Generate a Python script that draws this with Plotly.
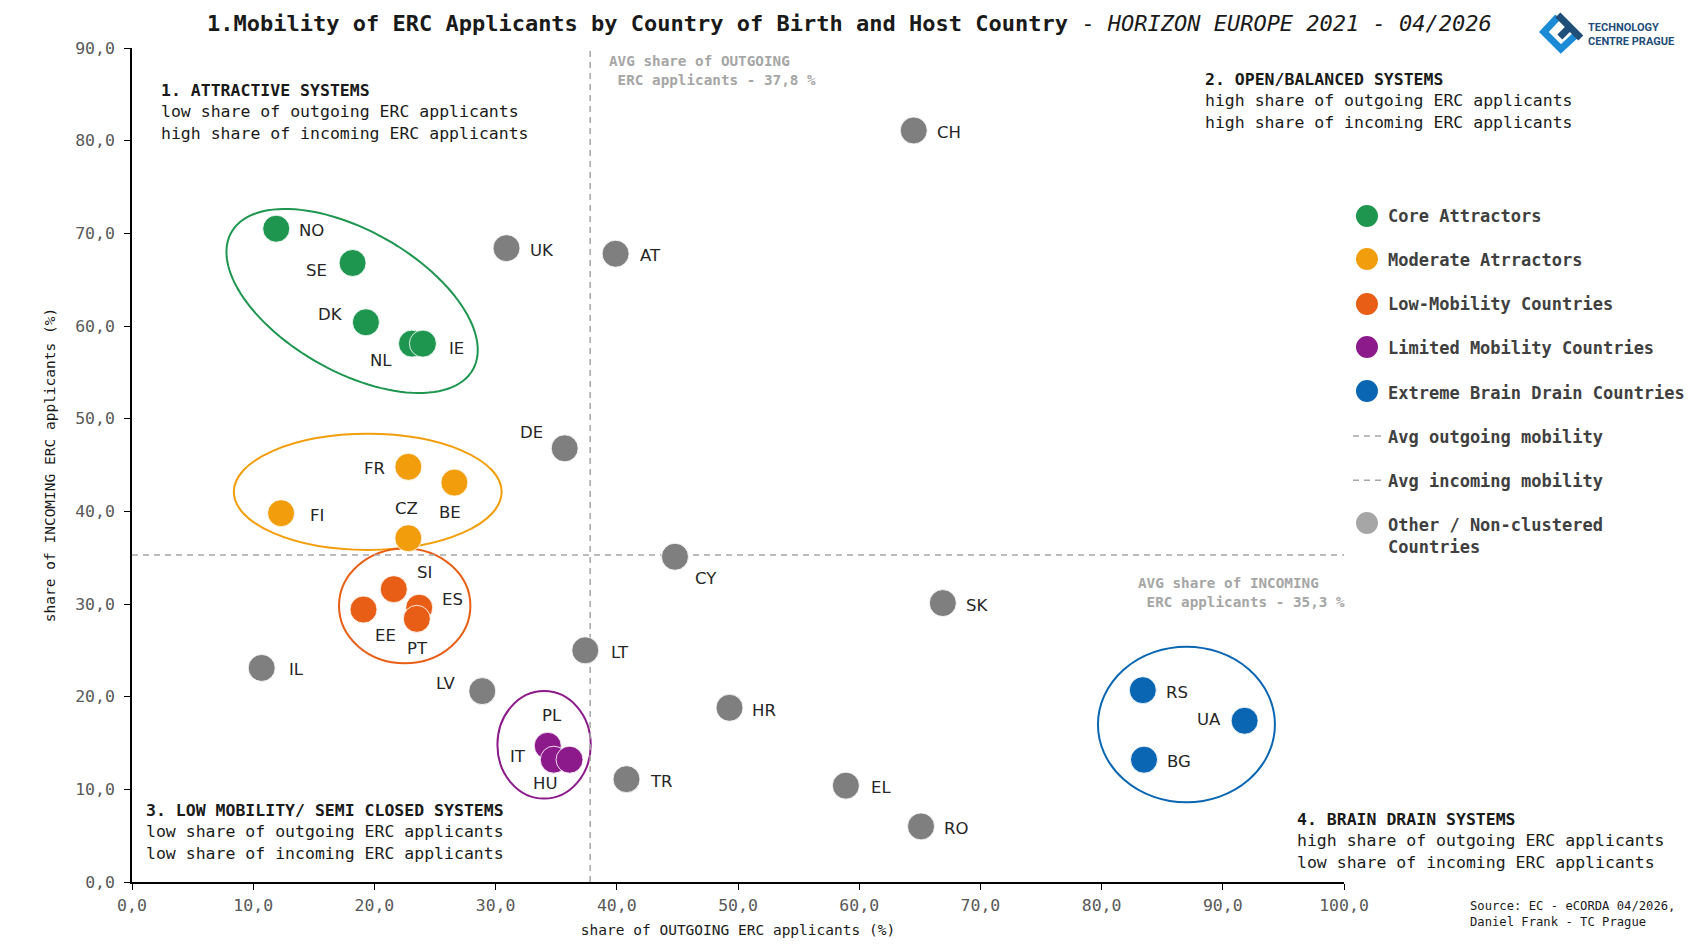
import numpy as np
import plotly.graph_objects as go

# ---------------- data ----------------
core_countries = ["NO", "SE", "DK", "NL", "IE"]
core_out = [11.9, 18.2, 19.3, 23.1, 24.0]
core_in = [70.5, 66.8, 60.4, 58.1, 58.1]

moderate_countries = ["FR", "BE", "FI", "CZ"]
moderate_out = [22.8, 26.6, 12.3, 22.8]
moderate_in = [44.8, 43.1, 39.8, 37.1]

low_countries = ["SI", "ES", "PT", "EE"]
low_out = [21.6, 23.7, 23.5, 19.1]
low_in = [31.6, 29.6, 28.4, 29.4]

limited_countries = ["PL", "IT", "HU"]
limited_out = [34.3, 34.8, 36.1]
limited_in = [14.7, 13.2, 13.2]

extreme_countries = ["RS", "UA", "BG"]
extreme_out = [83.4, 91.8, 83.5]
extreme_in = [20.7, 17.4, 13.2]

other_countries = ["CH", "UK", "AT", "DE", "CY", "SK", "IL", "LT", "LV", "HR", "TR", "EL", "RO"]
other_out = [64.5, 30.9, 39.9, 35.7, 44.8, 66.9, 10.7, 37.4, 28.9, 49.3, 40.8, 58.9, 65.1]
other_in = [81.1, 68.4, 67.8, 46.8, 35.1, 30.1, 23.1, 25.0, 20.6, 18.8, 11.1, 10.4, 6.0]

AVG_OUT = 37.8
AVG_IN = 35.3

x_ticks = [0, 10, 20, 30, 40, 50, 60, 70, 80, 90, 100]
y_ticks = [0, 10, 20, 30, 40, 50, 60, 70, 80, 90]

# ---------------- styling ----------------
W, H = 1701, 945
L, R, T, B = 132, 1345, 48, 882
X_RANGE = [0, 100]
Y_RANGE = [0, 90]
PX_X = (R - L) / (X_RANGE[1] - X_RANGE[0])
PX_Y = (B - T) / (Y_RANGE[1] - Y_RANGE[0])
MONO = "DejaVu Sans Mono"
SANS = "DejaVu Sans"

C_CORE = "#1E9650"
C_MOD = "#F29E0C"
C_LOW = "#E85E16"
C_LIM = "#8C1A8A"
C_EXT = "#0A66B2"
C_OTHER = "#7F7F7F"
C_OTHER_LEG = "#A6A6A6"
C_AVG = "#A6A6A6"
MSIZE = 27


def pp(x, y):
    """pixel -> paper coordinates"""
    return (x - L) / (R - L), (B - y) / (B - T)


# label offsets (pixels: dx right, dy up)
label_offsets = {
    "NO": (35, -2), "SE": (-36, -8), "DK": (-35, 8), "NL": (-31, -17), "IE": (34, -5),
    "UK": (35, -2), "AT": (35, -2), "CH": (35, -2), "DE": (-33, 16),
    "FR": (-34, -2), "BE": (-4, -30), "FI": (36, -2), "CZ": (-2, 30),
    "CY": (31, -22), "SI": (31, 17), "ES": (33, 8), "EE": (22, -26), "PT": (1, -30),
    "SK": (34, -2), "IL": (35, -2), "LT": (35, -2), "LV": (-37, 8), "HR": (34, -3),
    "PL": (4, 30), "IT": (-36, 3), "HU": (-25, -24), "TR": (35, -2), "EL": (35, -2),
    "RO": (35, -2), "RS": (34, -2), "UA": (-36, 1), "BG": (35, -2),
}

fig = go.Figure()

# average lines
fig.add_trace(go.Scatter(
    x=[AVG_OUT, AVG_OUT], y=Y_RANGE, mode="lines",
    line=dict(color=C_AVG, width=1.5, dash="6px,5px"),
    name="Avg outgoing mobility", legendrank=6, legendgroup="g6", hoverinfo="skip"))
fig.add_trace(go.Scatter(
    x=X_RANGE, y=[AVG_IN, AVG_IN], mode="lines",
    line=dict(color=C_AVG, width=1.5, dash="6px,5px"),
    name="Avg incoming mobility", legendrank=7, legendgroup="g7", hoverinfo="skip"))

clusters = [
    ("Core Attractors", core_countries, core_out, core_in, C_CORE),
    ("Moderate Atrractors", moderate_countries, moderate_out, moderate_in, C_MOD),
    ("Low-Mobility Countries", low_countries, low_out, low_in, C_LOW),
    ("Limited Mobility Countries", limited_countries, limited_out, limited_in, C_LIM),
    ("Extreme Brain Drain Countries", extreme_countries, extreme_out, extreme_in, C_EXT),
]

marker_line = dict(width=1, color="rgba(255,255,255,0.85)")

fig.add_trace(go.Scatter(
    x=other_out, y=other_in, mode="markers", text=other_countries,
    marker=dict(size=MSIZE, color=C_OTHER, line=marker_line),
    name="Other", showlegend=False,
    hovertemplate="%{text}<br>out: %{x}<br>in: %{y}<extra></extra>"))

for i, (name, ctry, xo, yi, col) in enumerate(clusters):
    fig.add_trace(go.Scatter(
        x=xo, y=yi, mode="markers", text=ctry,
        marker=dict(size=MSIZE, color=col, line=marker_line),
        name=name, showlegend=False, legendgroup=f"g{i+1}",
        hovertemplate="%{text}<br>out: %{x}<br>in: %{y}<extra></extra>"))
    # legend entry (symbol drawn as a larger swatch below)
    fig.add_trace(go.Scatter(
        x=[None], y=[None], mode="markers",
        marker=dict(size=MSIZE, color="rgba(0,0,0,0)"),
        name=name, legendrank=i + 1, legendgroup=f"g{i+1}"))

# legend entry for other countries
fig.add_trace(go.Scatter(
    x=[None], y=[None], mode="markers",
    marker=dict(size=MSIZE, color="rgba(0,0,0,0)"),
    name="Other / Non-clustered<br>Countries", legendrank=8, legendgroup="g8"))

# country labels
annotations = []
all_groups = [(other_countries, other_out, other_in)] + [(c[1], c[2], c[3]) for c in clusters]
for ctry, xo, yi in all_groups:
    for c, xv, yv in zip(ctry, xo, yi):
        dx, dy = label_offsets[c]
        annotations.append(dict(
            x=xv, y=yv, xref="x", yref="y", text=c, showarrow=False,
            xshift=dx, yshift=dy, font=dict(family=SANS, size=16.5, color="#262626")))

# cluster ellipses (axis-aligned): cx, cy, rx, ry in data units
ellipses = [
    (19.45, 42.1, 11.05, 6.26, C_MOD),
    (22.5, 29.8, 5.42, 6.2, C_LOW),
    (34.0, 14.8, 3.85, 5.8, C_LIM),
    (87.0, 17.0, 7.3, 8.4, C_EXT),
]
shapes = []
for cx, cy, rx, ry, col in ellipses:
    shapes.append(dict(type="circle", xref="x", yref="y",
                       x0=cx - rx, x1=cx + rx, y0=cy - ry, y1=cy + ry,
                       line=dict(color=col, width=2), layer="below"))

# rotated ellipse for core attractors (center in data, axes in pixels)
g_cx, g_cy, g_a, g_b, g_ang = 18.16, 62.7, 139, 70.5, 29.6
t = np.linspace(0, 2 * np.pi, 120)
th = np.radians(g_ang)
dxp = g_a * np.cos(t) * np.cos(th) - g_b * np.sin(t) * np.sin(th)
dyp = g_a * np.cos(t) * np.sin(th) + g_b * np.sin(t) * np.cos(th)
ex = g_cx + dxp / PX_X
ey = g_cy - dyp / PX_Y
path = "M " + " L ".join(f"{a:.3f},{b:.3f}" for a, b in zip(ex, ey)) + " Z"
shapes.append(dict(type="path", xref="x", yref="y", path=path,
                   line=dict(color=C_CORE, width=2), layer="below"))

# larger legend swatches (legend symbols in plotly are size-capped)
LEG_X = 1368
LEG_R = 11
legend_swatches = [(216, C_CORE), (259, C_MOD), (304, C_LOW), (347, C_LIM), (391, C_EXT), (523, C_OTHER_LEG)]
for ly, col in legend_swatches:
    x0, y0 = pp(LEG_X - LEG_R, ly + LEG_R)
    x1, y1 = pp(LEG_X + LEG_R, ly - LEG_R)
    shapes.append(dict(type="circle", xref="paper", yref="paper", x0=x0, x1=x1, y0=y0, y1=y1,
                       fillcolor=col, line=dict(width=0), layer="above"))

# logo
def ppath(points):
    pts = [pp(x, y) for x, y in points]
    return "M " + " L ".join(f"{a:.5f},{b:.5f}" for a, b in pts)

shapes.append(dict(type="path", xref="paper", yref="paper",
                   path=ppath([(1559, 17), (1545, 32), (1562, 49), (1576, 36)]),
                   line=dict(color="#1B8BD6", width=7)))
shapes.append(dict(type="path", xref="paper", yref="paper",
                   path=ppath([(1559, 15), (1582, 38)]),
                   line=dict(color="#1F4E79", width=7)))
shapes.append(dict(type="path", xref="paper", yref="paper",
                   path=ppath([(1571, 27), (1561, 37)]),
                   line=dict(color="#1F4E79", width=7)))

def add_text(x, y, text, size, color="#1a1a1a", family=MONO, xanchor="left", yanchor="top", align="left", **kw):
    px_, py_ = pp(x, y)
    annotations.append(dict(x=px_, y=py_, xref="paper", yref="paper", text=text,
                            showarrow=False, xanchor=xanchor, yanchor=yanchor, align=align,
                            font=dict(family=family, size=size, color=color), **kw))

add_text(1587, 19, "<b>TECHNOLOGY<br>CENTRE PRAGUE</b>", 11, color="#1F4E79", family="Roboto")

# title
add_text(850, 24,
         "<b>1.Mobility of ERC Applicants by Country of Birth and Host Country</b> - "
         "<i>HORIZON EUROPE 2021 - 04/2026</i>",
         22, color="#1a1a1a", xanchor="center", yanchor="middle", align="center")

# quadrant descriptions
add_text(159, 79, "<b>1. ATTRACTIVE SYSTEMS</b><br>low share of outgoing ERC applicants<br>"
         "high share of incoming ERC applicants", 16.5)
add_text(1204, 68, "<b>2. OPEN/BALANCED SYSTEMS</b><br>high share of outgoing ERC applicants<br>"
         "high share of incoming ERC applicants", 16.5)
add_text(144, 799, "<b>3. LOW MOBILITY/ SEMI CLOSED SYSTEMS</b><br>low share of outgoing ERC applicants<br>"
         "low share of incoming ERC applicants", 16.5)
add_text(1296, 808, "<b>4. BRAIN DRAIN SYSTEMS</b><br>high share of outgoing ERC applicants<br>"
         "low share of incoming ERC applicants", 16.5)

# average annotations
add_text(607, 51, "<b>AVG share of OUTGOING<br>\u00a0ERC applicants - 37,8 %</b>", 14.3, color=C_AVG)
add_text(1137, 573, "<b>AVG share of INCOMING<br>\u00a0ERC applicants - 35,3 %</b>", 14.3, color=C_AVG)

# source
add_text(1469, 897, "Source: EC - eCORDA 04/2026,<br>Daniel Frank - TC Prague", 12.2, color="#1a1a1a")

axis_common = dict(
    showline=True, linecolor="black", linewidth=1.5, showgrid=False, zeroline=False,
    ticks="outside", ticklen=6, tickwidth=1, tickcolor="black", automargin=False,
    tickformat=".1f", tickfont=dict(family=MONO, size=16.5, color="#595959"),
)

fig.update_layout(
    width=W, height=H,
    margin=dict(l=L, r=W - R, t=T, b=H - B),
    paper_bgcolor="white", plot_bgcolor="white",
    separators=",.",
    xaxis=dict(range=X_RANGE, tickvals=x_ticks, ticklabelstandoff=1,
               title=dict(text="share of OUTGOING ERC applicants (%)", standoff=11,
                          font=dict(family=MONO, size=14.5, color="#1a1a1a")),
               **axis_common),
    yaxis=dict(range=Y_RANGE, tickvals=y_ticks, ticklabelstandoff=6,
               title=dict(text="share of INCOMING ERC applicants (%)", standoff=16,
                          font=dict(family=MONO, size=14.5, color="#1a1a1a")),
               **axis_common),
    legend=dict(x=pp(1348, 0)[0], y=pp(0, 198)[1], xanchor="left", yanchor="top",
                font=dict(family=MONO, size=17, color="#404040", weight="bold"),
                tracegroupgap=19, bgcolor="rgba(0,0,0,0)"),
    shapes=shapes,
    annotations=annotations,
    showlegend=True,
)

fig.write_html("out.html")
